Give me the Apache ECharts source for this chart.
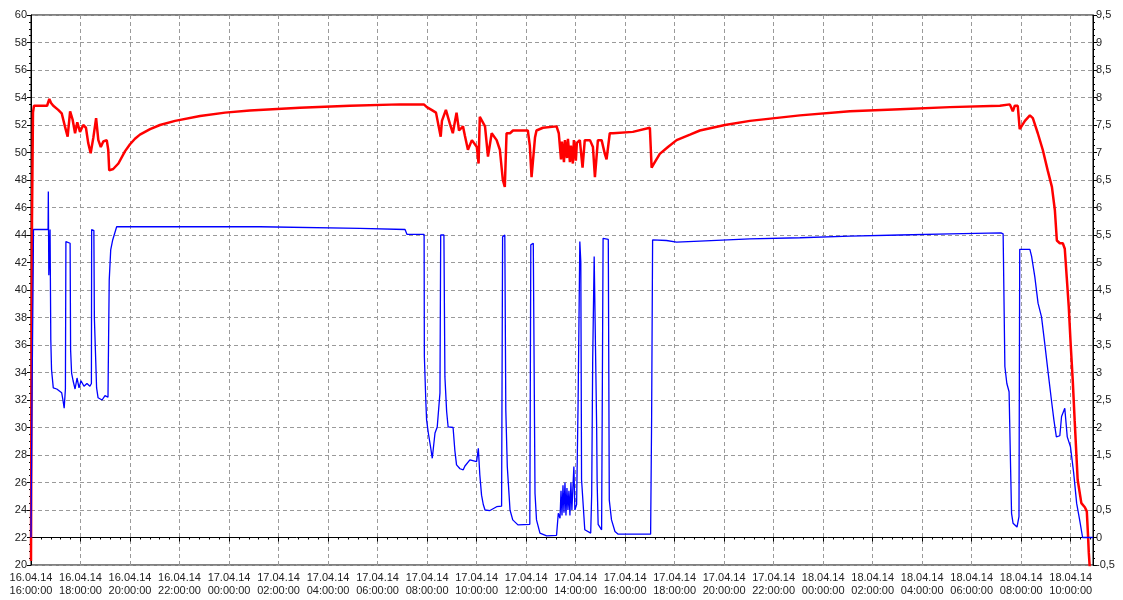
<!DOCTYPE html>
<html>
<head>
<meta charset="utf-8">
<title>16.04.14 – 18.04.14</title>
<script src="https://cdn.jsdelivr.net/npm/echarts@6/dist/echarts.min.js"></script>
<style>
  html, body { margin: 0; padding: 0; background: #fff; }
  #chart { width: 1123px; height: 600px; }
</style>
</head>
<body>
<div id="chart"></div>
<script>
// Time is given in hours since 16.04.14 16:00:00.
const xTickLabels = [
  '16.04.14\n16:00:00', '16.04.14\n18:00:00', '16.04.14\n20:00:00', '16.04.14\n22:00:00',
  '17.04.14\n00:00:00', '17.04.14\n02:00:00', '17.04.14\n04:00:00', '17.04.14\n06:00:00',
  '17.04.14\n08:00:00', '17.04.14\n10:00:00', '17.04.14\n12:00:00', '17.04.14\n14:00:00',
  '17.04.14\n16:00:00', '17.04.14\n18:00:00', '17.04.14\n20:00:00', '17.04.14\n22:00:00',
  '18.04.14\n00:00:00', '18.04.14\n02:00:00', '18.04.14\n04:00:00', '18.04.14\n06:00:00',
  '18.04.14\n08:00:00', '18.04.14\n10:00:00'
];
const xStepHours = 2;
const xEndHours = 42.9;

const leftAxisRange = [20, 60, 2];
const rightAxisRange = [-0.5, 9.5, 0.5];

// Red trace, left axis: [hours, value]
const redSeries = [
  [0.00, 20.3], [0.04, 45.0], [0.08, 52.9], [0.12, 53.4], [0.65, 53.4], [0.74, 53.9],
  [0.81, 53.6], [0.90, 53.4], [1.10, 53.1], [1.24, 52.85], [1.30, 52.8], [1.37, 51.9],
  [1.48, 51.15], [1.58, 53.0], [1.68, 52.4], [1.78, 51.4], [1.87, 52.2], [1.98, 51.5],
  [2.11, 52.0], [2.22, 51.8], [2.31, 50.7], [2.41, 49.95], [2.52, 51.1], [2.63, 52.5],
  [2.72, 50.9], [2.82, 50.4], [2.92, 50.8], [3.06, 50.9], [3.12, 50.2], [3.16, 48.7],
  [3.32, 48.8], [3.53, 49.2], [3.80, 50.1], [4.00, 50.6], [4.20, 51.0], [4.40, 51.3],
  [4.81, 51.7], [5.21, 52.0], [5.82, 52.3], [6.83, 52.65], [7.84, 52.9], [8.84, 53.05],
  [10.86, 53.25], [12.88, 53.4], [14.90, 53.5], [15.87, 53.5], [15.99, 53.3], [16.18, 53.1],
  [16.36, 52.9], [16.44, 52.8], [16.55, 51.15], [16.60, 52.3], [16.76, 53.1], [16.92, 52.1],
  [17.04, 51.4], [17.19, 52.9], [17.29, 51.6], [17.45, 51.9], [17.53, 51.2], [17.65, 50.2],
  [17.81, 50.9], [18.01, 50.4], [18.08, 49.2], [18.13, 52.6], [18.34, 51.9], [18.46, 49.7],
  [18.61, 51.4], [18.81, 50.9], [18.94, 50.2], [19.06, 48.0], [19.14, 47.5], [19.21, 51.4],
  [19.35, 51.4], [19.47, 51.6], [19.87, 51.6], [20.07, 51.6], [20.15, 50.5], [20.22, 48.2],
  [20.36, 51.1], [20.42, 51.6], [20.68, 51.8], [21.23, 51.9], [21.32, 51.4], [21.41, 49.5],
  [21.45, 50.8], [21.53, 49.3], [21.57, 50.9], [21.65, 49.6], [21.69, 51.0], [21.77, 49.3],
  [21.81, 50.5], [21.89, 49.2], [21.93, 50.9], [22.01, 49.4], [22.05, 50.7], [22.17, 50.9],
  [22.28, 48.9], [22.37, 50.9], [22.58, 50.9], [22.70, 50.4], [22.78, 48.2], [22.90, 50.9],
  [23.05, 50.9], [23.18, 49.9], [23.25, 49.5], [23.38, 51.4], [23.51, 51.4], [24.31, 51.5],
  [25.00, 51.8], [25.07, 48.9], [25.20, 49.3], [25.40, 49.9], [25.73, 50.4], [26.08, 50.9],
  [26.62, 51.3], [27.02, 51.6], [28.03, 52.0], [29.04, 52.3], [31.06, 52.7], [33.08, 53.0],
  [35.10, 53.15], [37.12, 53.3], [39.14, 53.4], [39.54, 53.5], [39.66, 53.0], [39.74, 53.4],
  [39.86, 53.4], [39.94, 51.7], [40.15, 52.3], [40.35, 52.7], [40.47, 52.5], [40.67, 51.4],
  [40.87, 50.2], [41.07, 48.7], [41.24, 47.5], [41.36, 45.8], [41.44, 43.6], [41.56, 43.4],
  [41.68, 43.4], [41.76, 43.0], [41.84, 40.9], [41.92, 38.8], [42.00, 36.0], [42.08, 33.5],
  [42.16, 30.5], [42.28, 26.2], [42.43, 24.5], [42.57, 24.2], [42.65, 23.9], [42.70, 22.1],
  [42.73, 20.9], [42.77, 19.8]
];

// Blue trace, right axis: [hours, value]
const blueSeries = [
  [0.00, 0.0], [0.04, 2.5], [0.09, 4.92], [0.10, 5.6], [0.69, 5.6], [0.70, 6.29],
  [0.72, 4.77], [0.77, 5.6], [0.80, 3.59], [0.83, 3.05], [0.90, 2.72], [1.04, 2.7],
  [1.24, 2.63], [1.29, 2.5], [1.34, 2.35], [1.39, 2.7], [1.41, 5.38], [1.58, 5.35],
  [1.60, 3.41], [1.64, 2.99], [1.70, 2.85], [1.78, 2.7], [1.86, 2.9], [1.94, 2.72],
  [2.02, 2.85], [2.14, 2.75], [2.26, 2.8], [2.38, 2.75], [2.44, 2.8], [2.45, 5.6],
  [2.54, 5.58], [2.56, 3.99], [2.65, 2.72], [2.71, 2.54], [2.87, 2.5], [2.99, 2.58],
  [3.11, 2.55], [3.12, 3.01], [3.16, 4.68], [3.22, 5.23], [3.30, 5.41], [3.46, 5.65],
  [9.25, 5.65], [9.33, 5.63], [13.29, 5.62], [13.37, 5.6], [15.11, 5.6], [15.19, 5.51],
  [15.88, 5.51], [15.89, 3.29], [15.95, 2.47], [15.98, 2.14], [16.05, 1.9], [16.14, 1.65],
  [16.21, 1.44], [16.32, 1.9], [16.41, 2.01], [16.49, 2.01], [16.52, 2.63], [16.55, 5.5],
  [16.68, 5.5], [16.72, 2.92], [16.79, 2.29], [16.85, 2.01], [17.05, 2.0], [17.12, 1.59],
  [17.19, 1.32], [17.33, 1.25], [17.46, 1.23], [17.53, 1.30], [17.73, 1.41], [18.00, 1.38],
  [18.07, 1.62], [18.13, 1.14], [18.20, 0.77], [18.27, 0.6], [18.34, 0.5], [18.54, 0.49],
  [18.81, 0.56], [19.01, 0.57], [19.05, 5.47], [19.14, 5.5], [19.18, 2.32], [19.24, 1.29],
  [19.35, 0.5], [19.46, 0.32], [19.67, 0.23], [20.15, 0.24], [20.19, 5.32], [20.29, 5.35],
  [20.36, 0.8], [20.42, 0.32], [20.56, 0.08], [20.83, 0.03], [21.23, 0.04], [21.30, 0.44],
  [21.37, 0.35], [21.41, 0.85], [21.45, 0.4], [21.49, 0.95], [21.53, 0.45], [21.57, 1.0],
  [21.61, 0.4], [21.65, 0.9], [21.69, 0.5], [21.73, 0.85], [21.77, 0.4], [21.81, 1.0],
  [21.85, 0.5], [21.89, 0.9], [21.93, 1.29], [21.97, 0.5], [22.04, 0.6], [22.10, 2.45],
  [22.17, 5.38], [22.21, 5.01], [22.24, 1.05], [22.37, 0.14], [22.61, 0.08], [22.65, 0.8],
  [22.69, 3.23], [22.75, 5.11], [22.85, 2.01], [22.87, 0.99], [22.91, 0.24], [23.05, 0.14],
  [23.11, 5.44], [23.32, 5.42], [23.36, 0.68], [23.45, 0.32], [23.59, 0.11], [23.72, 0.06],
  [25.03, 0.06], [25.07, 2.14], [25.11, 5.41], [25.67, 5.4], [26.08, 5.37], [27.02, 5.39],
  [29.04, 5.43], [31.06, 5.45], [33.08, 5.48], [35.10, 5.5], [37.12, 5.52], [39.18, 5.54],
  [39.27, 5.52], [39.34, 3.11], [39.42, 2.8], [39.51, 2.65], [39.57, 1.29], [39.61, 0.44],
  [39.67, 0.26], [39.83, 0.19], [39.91, 0.38], [39.94, 5.24], [40.35, 5.24], [40.42, 5.11],
  [40.55, 4.74], [40.68, 4.26], [40.82, 4.01], [40.95, 3.53], [41.09, 2.99], [41.22, 2.5],
  [41.32, 2.14], [41.42, 1.83], [41.56, 1.85], [41.63, 2.2], [41.76, 2.35], [41.86, 1.83],
  [41.99, 1.65], [42.12, 1.17], [42.24, 0.62], [42.36, 0.32], [42.48, 0.0], [42.90, 0.0]
];

const labelFont = { fontFamily: 'Liberation Sans, Arial, sans-serif', fontSize: 11, color: '#222' };
const dashedGrid = { show: true, lineStyle: { color: '#9a9a9a', type: [4, 3], width: 1 } };

const chart = echarts.init(document.getElementById('chart'), null, { renderer: 'canvas' });

chart.setOption({
  animation: false,
  backgroundColor: '#fff',
  grid: {
    left: 31, right: 30, top: 15, bottom: 35,
    show: true, borderColor: '#000', borderWidth: 1, backgroundColor: 'transparent'
  },
  xAxis: {
    type: 'value',
    min: 0,
    max: xEndHours,
    interval: xStepHours,
    axisLine: { show: true, lineStyle: { color: '#000', width: 1 } },
    axisTick: { show: true, length: 4, lineStyle: { color: '#000' } },
    minorTick: { show: true, splitNumber: 5, length: 2, lineStyle: { color: '#000' } },
    splitLine: dashedGrid,
    axisLabel: Object.assign({}, labelFont, {
      margin: 6,
      lineHeight: 13,
      showMinLabel: true,
      showMaxLabel: true,
      formatter: function (v) {
        const i = Math.round(v / xStepHours);
        if (Math.abs(v - i * xStepHours) > 1e-6) return '';
        return xTickLabels[i] || '';
      }
    })
  },
  yAxis: [
    {
      type: 'value',
      position: 'left',
      min: leftAxisRange[0],
      max: leftAxisRange[1],
      interval: leftAxisRange[2],
      axisLine: { show: true, lineStyle: { color: '#000', width: 1 } },
      axisTick: { show: true, length: 4, lineStyle: { color: '#000' } },
      minorTick: { show: true, splitNumber: 4, length: 2, lineStyle: { color: '#000' } },
      splitLine: dashedGrid,
      axisLabel: Object.assign({}, labelFont, { margin: 4 })
    },
    {
      type: 'value',
      position: 'right',
      min: rightAxisRange[0],
      max: rightAxisRange[1],
      interval: rightAxisRange[2],
      axisLine: { show: true, lineStyle: { color: '#000', width: 1 } },
      axisTick: { show: true, length: 4, lineStyle: { color: '#000' } },
      minorTick: { show: true, splitNumber: 4, length: 2, lineStyle: { color: '#000' } },
      splitLine: { show: false },
      axisLabel: Object.assign({}, labelFont, {
        margin: 3,
        formatter: function (v) { return String(+v.toFixed(2)).replace('.', ','); }
      })
    }
  ],
  series: [
    {
      name: 'A',
      type: 'line',
      yAxisIndex: 0,
      data: redSeries,
      showSymbol: false,
      symbol: 'none',
      lineStyle: { color: '#ff0000', width: 2.5 },
      z: 2
    },
    {
      name: 'B',
      type: 'line',
      yAxisIndex: 1,
      data: blueSeries,
      showSymbol: false,
      symbol: 'none',
      lineStyle: { color: '#0000ff', width: 1.3 },
      z: 3
    }
  ]
});
</script>
</body>
</html>
